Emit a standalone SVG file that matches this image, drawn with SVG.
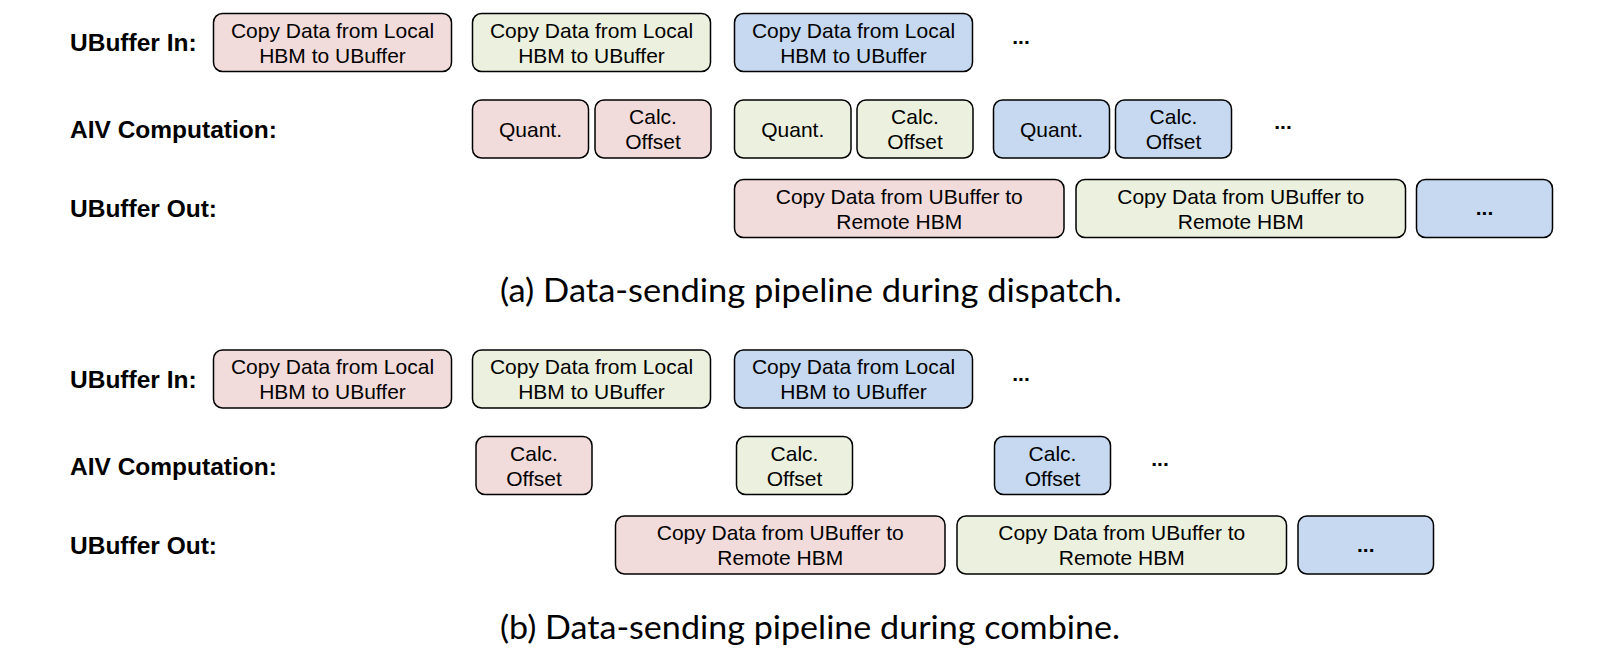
<svg xmlns="http://www.w3.org/2000/svg" width="1618" height="662" viewBox="0 0 1618 662">
<style>
.bx{stroke:#000;stroke-width:1.5}
.p{fill:#f2dcdb}
.g{fill:#ebf1de}
.b{fill:#c6d9f0}
.t{font-family:"Liberation Sans",Arial,sans-serif;font-size:21px;fill:#000;text-anchor:middle}
.d{font-weight:bold}
.lb{font-family:"Liberation Sans",Arial,sans-serif;font-size:24.5px;font-weight:bold;fill:#000}
.cap{font-family:Lato,"Open Sans",sans-serif;font-size:32px;fill:#000;text-anchor:middle}
</style>
<rect width="1618" height="662" fill="#fff"/>
<g id="connectors"></g>

<!-- Section (a) -->
<g id="a-labels">
<text class="lb" x="70" y="51">UBuffer In:</text>
<text class="lb" x="70" y="138">AIV Computation:</text>
<text class="lb" x="70" y="217">UBuffer Out:</text>
</g>
<g id="a-in1"><rect class="bx p" x="213.5" y="13.5" width="238" height="58" rx="9"/><text class="t" x="332.5" y="37.5">Copy Data from Local</text><text class="t" x="332.5" y="62.5">HBM to UBuffer</text></g>
<g id="a-in2"><rect class="bx g" x="472.5" y="13.5" width="238" height="58" rx="9"/><text class="t" x="591.5" y="37.5">Copy Data from Local</text><text class="t" x="591.5" y="62.5">HBM to UBuffer</text></g>
<g id="a-in3"><rect class="bx b" x="734.5" y="13.5" width="238" height="58" rx="9"/><text class="t" x="853.5" y="37.5">Copy Data from Local</text><text class="t" x="853.5" y="62.5">HBM to UBuffer</text></g>
<g id="a-in-more"><text class="t d" x="1021" y="44">...</text></g>

<g id="a-c1"><rect class="bx p" x="472.5" y="100" width="116" height="58" rx="9"/><text class="t" x="530.5" y="136.5">Quant.</text></g>
<g id="a-c2"><rect class="bx p" x="595" y="100" width="116" height="58" rx="9"/><text class="t" x="653" y="124">Calc.</text><text class="t" x="653" y="149">Offset</text></g>
<g id="a-c3"><rect class="bx g" x="734.5" y="100" width="116.5" height="58" rx="9"/><text class="t" x="792.75" y="136.5">Quant.</text></g>
<g id="a-c4"><rect class="bx g" x="857" y="100" width="116" height="58" rx="9"/><text class="t" x="915" y="124">Calc.</text><text class="t" x="915" y="149">Offset</text></g>
<g id="a-c5"><rect class="bx b" x="993.5" y="100" width="116" height="58" rx="9"/><text class="t" x="1051.5" y="136.5">Quant.</text></g>
<g id="a-c6"><rect class="bx b" x="1115.5" y="100" width="116" height="58" rx="9"/><text class="t" x="1173.5" y="124">Calc.</text><text class="t" x="1173.5" y="149">Offset</text></g>
<g id="a-c-more"><text class="t d" x="1283" y="129">...</text></g>

<g id="a-out1"><rect class="bx p" x="734.5" y="179.5" width="329.5" height="58" rx="9"/><text class="t" x="899.25" y="203.5">Copy Data from UBuffer to</text><text class="t" x="899.25" y="228.5">Remote HBM</text></g>
<g id="a-out2"><rect class="bx g" x="1076" y="179.5" width="329.5" height="58" rx="9"/><text class="t" x="1240.75" y="203.5">Copy Data from UBuffer to</text><text class="t" x="1240.75" y="228.5">Remote HBM</text></g>
<g id="a-out3"><rect class="bx b" x="1416.5" y="179.5" width="136" height="58" rx="9"/><text class="t d" x="1484.5" y="215">...</text></g>

<g id="a-caption"><text class="cap" x="811" y="302" textLength="622" lengthAdjust="spacingAndGlyphs">(a) Data-sending pipeline during dispatch.</text></g>

<!-- Section (b) -->
<g id="b-labels">
<text class="lb" x="70" y="387.5">UBuffer In:</text>
<text class="lb" x="70" y="474.5">AIV Computation:</text>
<text class="lb" x="70" y="553.5">UBuffer Out:</text>
</g>
<g id="b-in1"><rect class="bx p" x="213.5" y="350" width="238" height="58" rx="9"/><text class="t" x="332.5" y="374">Copy Data from Local</text><text class="t" x="332.5" y="399">HBM to UBuffer</text></g>
<g id="b-in2"><rect class="bx g" x="472.5" y="350" width="238" height="58" rx="9"/><text class="t" x="591.5" y="374">Copy Data from Local</text><text class="t" x="591.5" y="399">HBM to UBuffer</text></g>
<g id="b-in3"><rect class="bx b" x="734.5" y="350" width="238" height="58" rx="9"/><text class="t" x="853.5" y="374">Copy Data from Local</text><text class="t" x="853.5" y="399">HBM to UBuffer</text></g>
<g id="b-in-more"><text class="t d" x="1021" y="380.5">...</text></g>

<g id="b-c1"><rect class="bx p" x="476" y="436.5" width="116" height="58" rx="9"/><text class="t" x="534" y="460.5">Calc.</text><text class="t" x="534" y="485.5">Offset</text></g>
<g id="b-c2"><rect class="bx g" x="736.5" y="436.5" width="116" height="58" rx="9"/><text class="t" x="794.5" y="460.5">Calc.</text><text class="t" x="794.5" y="485.5">Offset</text></g>
<g id="b-c3"><rect class="bx b" x="994.5" y="436.5" width="116" height="58" rx="9"/><text class="t" x="1052.5" y="460.5">Calc.</text><text class="t" x="1052.5" y="485.5">Offset</text></g>
<g id="b-c-more"><text class="t d" x="1160" y="465.5">...</text></g>

<g id="b-out1"><rect class="bx p" x="615.5" y="516" width="329.5" height="58" rx="9"/><text class="t" x="780.25" y="540">Copy Data from UBuffer to</text><text class="t" x="780.25" y="565">Remote HBM</text></g>
<g id="b-out2"><rect class="bx g" x="957" y="516" width="329.5" height="58" rx="9"/><text class="t" x="1121.75" y="540">Copy Data from UBuffer to</text><text class="t" x="1121.75" y="565">Remote HBM</text></g>
<g id="b-out3"><rect class="bx b" x="1298" y="516" width="135.5" height="58" rx="9"/><text class="t d" x="1365.75" y="551.5">...</text></g>

<g id="b-caption"><text class="cap" x="810" y="639" textLength="620" lengthAdjust="spacingAndGlyphs">(b) Data-sending pipeline during combine.</text></g>
</svg>
